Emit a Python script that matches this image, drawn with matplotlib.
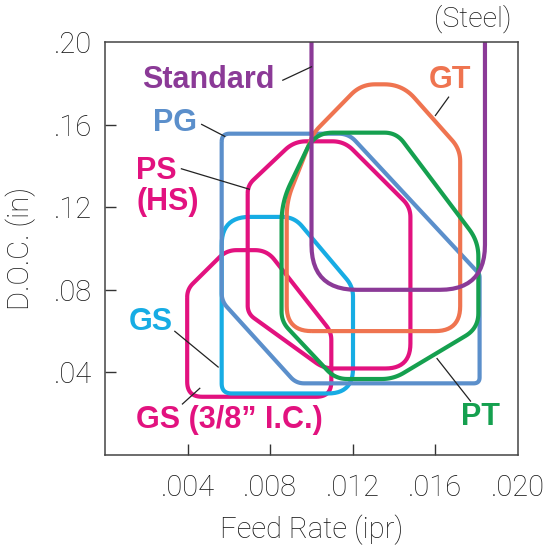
import matplotlib
matplotlib.use("Agg")
import matplotlib.pyplot as plt
import numpy as np

plt.rcParams["font.family"] = ["Roboto", "Liberation Sans", "DejaVu Sans"]

X_MAX = 0.020
Y_MAX = 0.20
X_TICKS = [0.004, 0.008, 0.012, 0.016, 0.020]
X_TICK_LABELS = [".004", ".008", ".012", ".016", ".020"]
Y_TICKS = [0.04, 0.08, 0.12, 0.16, 0.20]
Y_TICK_LABELS = [".04", ".08", ".12", ".16", ".20"]

# operating windows (feed rate, depth of cut)
standard_x = [0.0100, 0.0100, 0.0184, 0.0184]
standard_y = [0.215, 0.080, 0.080, 0.215]

gt_x = [0.0088, 0.0088, 0.0101, 0.0124, 0.0144, 0.0172, 0.0172]
gt_y = [0.060, 0.123, 0.156, 0.1795, 0.1795, 0.148, 0.060]

pg_x = [0.00565, 0.0118, 0.01814, 0.01814, 0.00926, 0.00565]
pg_y = [0.1556, 0.1556, 0.0875, 0.0347, 0.0347, 0.0745]

ps_x = [0.00691, 0.00916, 0.01159, 0.01479, 0.01479, 0.0106, 0.00691]
ps_y = [0.1306, 0.1519, 0.1519, 0.1200, 0.0419, 0.0419, 0.0685]

gs_x = [0.00565, 0.00916, 0.01201, 0.01201, 0.00565]
gs_y = [0.1153, 0.1153, 0.0815, 0.0298, 0.0298]

gs38_x = [0.00398, 0.00589, 0.00784, 0.01096, 0.01096, 0.00398]
gs38_y = [0.0803, 0.0992, 0.0992, 0.0595, 0.0282, 0.0282]

pt_x = [0.00855, 0.01016, 0.01411, 0.01808, 0.01808, 0.01397, 0.01116, 0.00855]
pt_y = [0.1224, 0.1561, 0.1561, 0.1034, 0.0614, 0.0368, 0.0368, 0.0646]

# corner rounding (pixels) per vertex
RADII = {
    "standard": [0, 45, 45, 0],
    "gt": [25, 15, 8, 14, 18, 12, 25],
    "pg": [8, 10, 3, 6, 8, 8],
    "ps": [8, 12, 12, 10, 25, 10, 8],
    "gs": [28, 12, 10, 25, 10],
    "gs38": [8, 10, 12, 8, 15, 15],
    "pt": [20, 18, 12, 15, 15, 12, 12, 10],
}

PURPLE = "#8b3a97"
ORANGE = "#ef7450"
BLUE = "#5b8fcb"
MAGENTA = "#e2127f"
GREEN = "#15a04f"
CYAN = "#17ace4"
INK = "#161616"

AX_PX = 413.0


def rounded(xs, ys, radii, closed=True, n=14):
    # work in axes units so the rounding is isotropic on screen
    pts = np.column_stack([np.array(xs) / X_MAX, np.array(ys) / Y_MAX])
    count = len(pts)
    out = []
    for i in range(count):
        p1 = pts[i]
        r = radii[i] / AX_PX
        if not closed and (i == 0 or i == count - 1):
            out.append(p1)
            continue
        p0 = pts[i - 1]
        p2 = pts[(i + 1) % count]
        l1 = np.linalg.norm(p0 - p1)
        l2 = np.linalg.norm(p2 - p1)
        t = min(r, 0.5 * l1, 0.5 * l2)
        if t <= 0:
            out.append(p1)
            continue
        a = p1 + (p0 - p1) / l1 * t
        b = p1 + (p2 - p1) / l2 * t
        for s in np.linspace(0, 1, n):
            out.append((1 - s) ** 2 * a + 2 * (1 - s) * s * p1 + s ** 2 * b)
    out = np.array(out)
    if closed:
        out = np.vstack([out, out[:1]])
    return out[:, 0] * X_MAX, out[:, 1] * Y_MAX


fig = plt.figure(figsize=(5.5, 5.47), dpi=100)
ax = fig.add_axes([105 / 550, 1 - 455 / 547, 413 / 550, 413 / 547])

shapes = [
    (gs38_x, gs38_y, RADII["gs38"], MAGENTA, True),
    (gs_x, gs_y, RADII["gs"], CYAN, True),
    (ps_x, ps_y, RADII["ps"], MAGENTA, True),
    (pg_x, pg_y, RADII["pg"], BLUE, True),
    (gt_x, gt_y, RADII["gt"], ORANGE, True),
    (pt_x, pt_y, RADII["pt"], GREEN, True),
    (standard_x, standard_y, RADII["standard"], PURPLE, False),
]
for xs, ys, rr, col, closed in shapes:
    px, py = rounded(xs, ys, rr, closed)
    ax.plot(px, py, color=col, lw=3.0, solid_joinstyle="round",
            solid_capstyle="butt")

ax.set_xlim(0, X_MAX)
ax.set_ylim(0, Y_MAX)
ax.set_xticks(X_TICKS[:-1])
ax.set_xticklabels(X_TICK_LABELS[:-1], fontweight="light")
ax.set_yticks(Y_TICKS[:-1])
ax.set_yticklabels(Y_TICK_LABELS[:-1], fontweight="light")
ax.tick_params(direction="in", length=8, width=1, color="#333333",
               labelsize=21, labelcolor=INK)
ax.tick_params(axis="x", pad=14)
ax.tick_params(axis="y", pad=9)
for sp in ax.spines.values():
    sp.set_color("#444444")
    sp.set_linewidth(1.1)

# the end labels sit on the spines, no tick mark there
ax.annotate(X_TICK_LABELS[-1], xy=(X_TICKS[-1], 0),
            xycoords=("data", "axes fraction"), xytext=(0, -14),
            textcoords="offset points", ha="center", va="top",
            fontsize=21, color=INK, fontweight="light")
ax.annotate(Y_TICK_LABELS[-1], xy=(0, Y_TICKS[-1]),
            xycoords=("axes fraction", "data"), xytext=(-9, 0),
            textcoords="offset points", ha="right", va="center_baseline",
            fontsize=21, color=INK, fontweight="light")

ax.set_xlabel("Feed Rate (ipr)", fontsize=21, color=INK, labelpad=9,
              fontweight="light")
ax.set_ylabel("D.O.C. (in)", fontsize=21, color=INK, labelpad=13,
              fontweight="light")

fig.text(511 / 550, 1 - 19 / 547, "(Steel)", ha="right", va="center",
         fontsize=20.5, color=INK, fontweight="light")

bold = dict(fontsize=22, fontweight="bold", va="center",
            family=["Liberation Sans", "DejaVu Sans"])
ax.text(0.00182, 0.1815, "Standard", color=PURPLE, ha="left", **bold)
ax.text(0.0157, 0.1815, "GT", color=ORANGE, ha="left", **bold)
ax.text(0.00233, 0.161, "PG", color=BLUE, ha="left", **bold)
ax.text(0.00152, 0.1375, "PS", color=MAGENTA, ha="left", **bold)
ax.text(0.00152, 0.1225, "(HS)", color=MAGENTA, ha="left", **bold)
ax.text(0.00115, 0.0642, "GS", color=CYAN, ha="left", **bold)
ax.text(0.00152, 0.0169, "GS (3/8\u201d I.C.)", color=MAGENTA, ha="left", **bold)
ax.text(0.01725, 0.0185, "PT", color=GREEN, ha="left", **bold)

# leader lines
leaders = [
    ((0.00861, 0.1815), (0.0100, 0.1880)),
    ((0.01664, 0.1733), (0.01600, 0.1644)),
    ((0.00468, 0.1601), (0.00580, 0.1543)),
    ((0.00370, 0.1386), (0.00699, 0.1287)),
    ((0.00338, 0.0599), (0.00548, 0.0426)),
    ((0.00375, 0.0247), (0.00459, 0.0323)),
    ((0.01770, 0.0261), (0.01608, 0.0467)),
]
for (x0, y0), (x1, y1) in leaders:
    ax.plot([x0, x1], [y0, y1], color="#222222", lw=0.9)

fig.savefig("out.png", dpi=100)
